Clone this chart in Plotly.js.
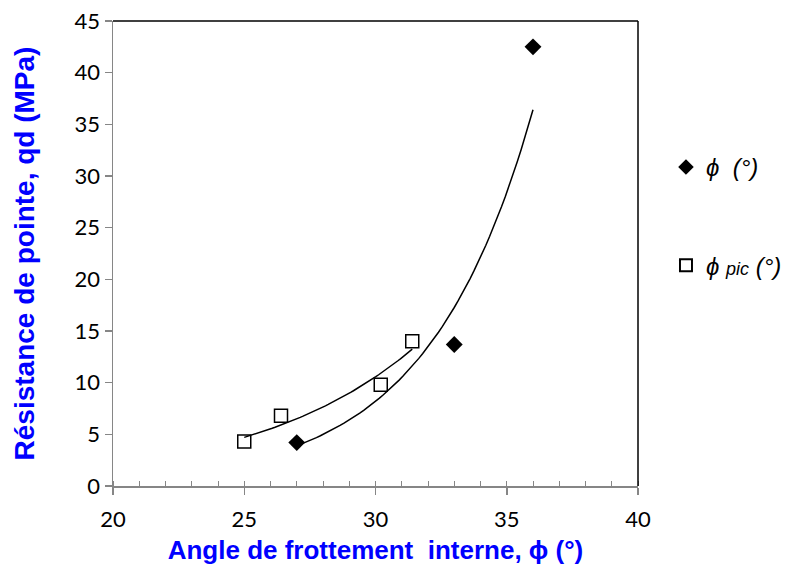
<!DOCTYPE html>
<html><head><meta charset="utf-8">
<script src="https://cdn.plot.ly/plotly-3.0.1.min.js"></script>
<style>html,body{margin:0;padding:0;background:#fff}#c{width:790px;height:577px}</style>
</head><body><div id="c"></div>
<script>
// φ (°) series
const phiX = [27, 33, 36];
const phiY = [4.2, 13.7, 42.5];
// φ pic (°) series
const picX = [25, 26.4, 30.2, 31.4];
const picY = [4.3, 6.8, 9.8, 14.0];
const xTicks = [20, 25, 30, 35, 40];
const yTicks = [0, 5, 10, 15, 20, 25, 30, 35, 40, 45];

// exponential least-squares trendline (as Excel does), derived from the data
function expFit(xs, ys) {
  const n = xs.length;
  const ly = ys.map(Math.log);
  const mx = xs.reduce((a, b) => a + b, 0) / n;
  const my = ly.reduce((a, b) => a + b, 0) / n;
  let sxx = 0, sxy = 0;
  for (let i = 0; i < n; i++) { sxx += (xs[i] - mx) ** 2; sxy += (xs[i] - mx) * (ly[i] - my); }
  const b = sxy / sxx, a = Math.exp(my - b * mx);
  const x0 = Math.min(...xs), x1 = Math.max(...xs);
  const tx = [], ty = [];
  for (let k = 0; k <= 60; k++) { const x = x0 + (x1 - x0) * k / 60; tx.push(x); ty.push(a * Math.exp(b * x)); }
  return {tx, ty};
}
const f1 = expFit(phiX, phiY), f2 = expFit(picX, picY);

const traces = [
  {x: f1.tx, y: f1.ty, mode: 'lines', line: {color: '#000', width: 1.5}, showlegend: false, hoverinfo: 'skip'},
  {x: f2.tx, y: f2.ty, mode: 'lines', line: {color: '#000', width: 1.5}, showlegend: false, hoverinfo: 'skip'},
  {x: phiX, y: phiY, mode: 'markers', name: '<i>ϕ  (°)</i>', legendgroup: 'a',
   marker: {symbol: 'diamond', size: 13, color: '#000'}},
  {x: picX, y: picY, mode: 'markers', name: '<i>ϕ <span style="font-size:18px">pic</span> (°)</i>', legendgroup: 'b',
   marker: {symbol: 'square-open', size: 13, color: '#000', line: {width: 1.5, color: '#000'}}}
];
const layout = {
  width: 790, height: 577,
  margin: {l: 113, r: 152, t: 21, b: 91},
  paper_bgcolor: '#fff', plot_bgcolor: '#fff',
  font: {family: 'Lato, "Liberation Sans", sans-serif', color: '#000'},
  xaxis: {range: [20, 40], tickvals: xTicks, ticks: 'outside', ticklen: 7, tickwidth: 1.5, tickcolor: '#868686',
    showline: true, linecolor: '#868686', linewidth: 1.5, showgrid: false, zeroline: false,
    tickfont: {size: 22, family: 'Lato, sans-serif'}, ticklabelstandoff: 6,
    minor: {dtick: 1, ticks: 'inside', ticklen: 5, tickwidth: 1, tickcolor: '#868686', showgrid: false},
    title: {text: 'Angle de frottement  interne, ϕ (°)', standoff: 10,
      font: {family: '"Liberation Sans", Arial, sans-serif', size: 26, color: '#0000FF', weight: 'bold'}}},
  yaxis: {range: [0, 45], tickvals: yTicks, ticks: 'outside', ticklen: 7, tickwidth: 1.5, tickcolor: '#868686',
    showline: true, linecolor: '#868686', linewidth: 1.5, showgrid: false, zeroline: false,
    tickfont: {size: 22, family: 'Lato, sans-serif'},
    title: {text: 'Résistance de pointe, qd (MPa)', standoff: 32,
      font: {family: '"Liberation Sans", Arial, sans-serif', size: 28, color: '#0000FF', weight: 'bold'}}},
  legend: {xref: 'container', yref: 'container', x: 0.843, y: 0.749, xanchor: 'left', yanchor: 'top',
    tracegroupgap: 64, traceorder: 'grouped', itemsizing: 'constant',
    font: {family: '"Liberation Sans", Arial, sans-serif', size: 24, color: '#000'}, bgcolor: 'rgba(0,0,0,0)'},
  shapes: [
    {type: 'line', xref: 'paper', yref: 'paper', x0: 0, x1: 1, y0: 1, y1: 1, line: {color: '#000', width: 1.5}},
    {type: 'line', xref: 'paper', yref: 'paper', x0: 1, x1: 1, y0: 0, y1: 1, line: {color: '#000', width: 1.5}}
  ]
};
Plotly.newPlot('c', traces, layout, {displayModeBar: false, staticPlot: true});
</script></body></html>
